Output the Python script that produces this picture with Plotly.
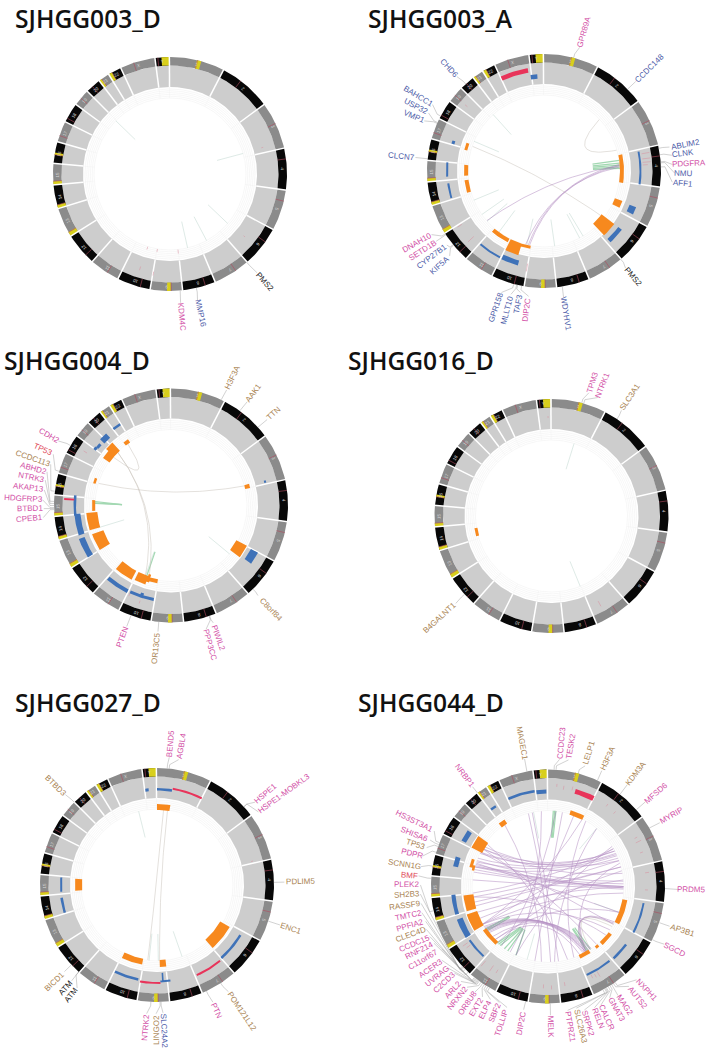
import numpy as np
import plotly.graph_objects as go

# chromosome layout, clockwise degrees from the top
CHROMS = [str(i) for i in range(1, 23)] + ['X', 'Y']
CHROM_END = [27.2, 53.5, 77.2, 97.9, 118.3, 138.8, 157.3, 173.8, 189.8, 206.4, 221.6, 237.9,
             252.8, 264.6, 275.2, 286, 296.5, 306.5, 315, 322.8, 328.4, 335.1, 352.6, 359.7]
CENTROMERE = [.5, .38, .46, .26, .27, .35, .38, .31, .35, .3, .4, .28,
              .15, .16, .18, .4, .3, .2, .45, .44, .27, .29, .39, .2]
HETERO = {'1': (.49, .57), '9': (.36, .48), '13': (0, .16), '14': (0, .16), '15': (0, .17),
          '16': (.39, .5), '21': (0, .25), '22': (0, .28), 'Y': (.45, 1)}

# labels: gene, colour, gene angle, label angle, label radius
P1_LABELS = [('PMS2', 'k', 139, 138.6, 143), ('KDM4C', 'p', 175, 175.3, 143), ('MMP16', 'b', 167, 167.7, 143)]
P1_ORANGE, P1_BLUE, P1_RED = [], [], []
P1_TICKS = [(197.6, 97, 101), (189.5, 99, 103), (197, 76, 79), (189.5, 76, 79), (174, 76, 80), (74, 95, 97), (130, 96, 98)]
P1_STUBS = [(314.5, 314.7), (74.3, 73.9), (130.6, 129), (151.2, 150.6), (166.6, 166.2)]
P1_GREEN, P1_PURPLE, P1_GREY = [], [], []

P2_LABELS = [('GPR89A', 'p', 14.7, 16.1, 145), ('CCDC148', 'b', 45.6, 45.7, 147), ('ABLIM2', 'b', 78.8, 79.2, 144),
             ('CLNK', 'b', 82, 83, 140), ('PDGFRA', 'p', 85.5, 87.1, 145), ('NMU', 'b', 86, 91, 139.5),
             ('AFF1', 'b', 88, 95, 140), ('PMS2', 'k', 139, 140, 138), ('WDYHV1', 'b', 171, 171.2, 144),
             ('DIP2C', 'p', 191, 187, 140), ('TAF3', 'b', 193, 191, 135), ('MLLT10', 'b', 193.5, 195, 144),
             ('GPR158', 'b', 195, 199.3, 145), ('KIF5A', 'b', 230.6, 228, 140.7), ('CYP27B1', 'b', 231, 232.7, 141),
             ('SETD1B', 'p', 237, 236.9, 145), ('DNAH10', 'p', 237.5, 240.5, 145.5), ('CLCN7', 'b', 276, 276, 143),
             ('VMP1', 'b', 294, 292.7, 141), ('USP32', 'b', 294.5, 296.7, 143), ('BAHCC1', 'b', 298, 300.8, 146),
             ('CHD6', 'b', 318, 317.3, 139.6)]
P2_ORANGE = [(78, 98.6, 76, 80), (111, 116, 76, 84), (127, 137, 72, 88), (197, 206, 76, 88), (207, 220.6, 76, 80),
             (190, 197, 76, 79), (254.2, 263.3, 76, 80), (266.6, 274.4, 76, 80), (285, 290, 79.5, 82.5)]
P2_BLUE = [(78.4, 98, 95.5, 97.5), (111.5, 116, 92, 99), (127, 137, 93, 97.5), (207, 220.9, 96, 98),
           (195.5, 205.8, 93, 98), (266.7, 275.1, 96, 98), (253.7, 262.7, 95.5, 97.5), (286.5, 288.5, 93.5, 96.5),
           (352, 356, 92.5, 97)]
P2_RED = [(335.4, 351, 99.5, 104)]
P2_TICKS = [(80, 99, 107), (83, 99, 107), (85, 99, 107), (86.5, 99, 104), (227, 96, 104), (237, 98, 103), (190, 94, 102), (310, 100, 103)]
P2_STUBS = [(318, 318), (293, 293), (247.4, 247.4), (235, 235), (228.5, 228.5), (216.4, 216.4),
            (193, 193), (171.9, 171.9), (152, 152), (149, 149)]
P2_GREEN = [(82, 82), (84, 84), (85.5, 85.5), (87, 87), (88, 88)]
P2_PURPLE = [(86, 191), (85, 192), (87, 194), (86, 229)]
P2_GREY = [(289, 128), (47, 74)]

P3_LABELS = [('H3F3A', 't', 25.4, 25.7, 142), ('AAK1', 't', 36, 36.3, 140), ('TTN', 't', 48, 48.2, 137.6),
             ('C8orf84', 't', 135.6, 136, 144), ('PIWIL2', 'p', 160.7, 160.2, 141), ('PPP3CC', 'p', 161, 164.2, 145),
             ('OR13C5', 't', 186, 185.9, 143), ('PTEN', 'p', 200, 200.1, 140), ('CPEB1', 'p', 268, 264.6, 142),
             ('BTBD1', 'p', 268.5, 268.6, 141), ('HDGFRP3', 'p', 269, 272.6, 147.5), ('AKAP13', 'p', 270, 277, 144),
             ('NTRK3', 'p', 271, 281.4, 142), ('ABHD2', 'p', 272, 285.2, 142.3), ('CCDC113', 't', 277, 288.9, 146),
             ('TP53', 'r', 287, 293.5, 139.6), ('CDH2', 'p', 300.8, 299.8, 141)]
P3_ORANGE = [(74.5, 77.5, 76, 81), (118, 127, 74, 86), (208, 221, 74, 84), (198, 206, 74, 83), (196, 198, 72, 80),
             (190, 197, 75, 79), (238, 250, 72, 84), (253, 265, 74, 85), (266, 274, 76, 79), (286, 290, 78.5, 81),
             (311, 317, 75, 86), (305, 311, 75, 83), (323, 327, 75, 79)]
P3_BLUE = [(75, 76.5, 96, 98), (118.5, 126, 91, 99), (206.8, 220.8, 94, 98), (190.4, 205.3, 94, 97), (197, 199, 92, 97),
           (238, 250, 92, 98), (252, 265, 91, 97), (264, 276, 95, 97.5), (313, 318, 91, 97), (308, 311, 92, 95),
           (306, 308, 93, 96), (323, 328, 94.5, 97)]
P3_RED = [(273, 274, 97, 107)]
P3_TICKS = [(302, 99, 103), (205, 96, 100), (198, 100, 103)]
P3_STUBS = [(253, 253), (129.6, 129.6), (200, 200)]
P3_GREEN = [(272, 271), (271.5, 271), (273, 271), (199, 199)]
P3_PURPLE = []
P3_GREY = [(287, 75), (315, 197), (325, 310), (315, 200)]

P4_LABELS = [('TPM3', 'p', 15, 16.9, 140), ('NTRK1', 'p', 16, 21.4, 141), ('SLC3A1', 't', 34, 33.5, 143),
             ('B4GALNT1', 't', 228, 227.6, 151)]
P4_ORANGE = [(255, 261, 75, 78)]
P4_BLUE, P4_RED = [], []
P4_TICKS = [(151.3, 97, 103), (358, 98, 100)]
P4_STUBS = [(17.3, 17.3), (157.8, 157.8)]
P4_GREEN, P4_PURPLE, P4_GREY = [], [], []

P5_LABELS = [('BEND5', 'p', 5, 5.5, 142), ('AGBL4', 'p', 6, 9.8, 141), ('HSPE1', 'p', 48, 49.8, 142),
             ('HSPE1-MOBKL3', 'p', 48, 54.2, 156.6), ('PDLIM5', 't', 88.7, 88.7, 143.7), ('ENC1', 't', 108, 108, 140.5),
             ('POM121L12', 't', 147, 146.2, 152.4), ('PTN', 'p', 155, 154.5, 138.5), ('SLC24A2', 'b', 178, 177.3, 146.8),
             ('LINGO2', 't', 178.5, 180.4, 145), ('NTRK2', 'p', 183, 184.6, 142.8), ('ATM', 'k', 222, 217.8, 139),
             ('ATM', 'k', 222, 221.7, 137), ('BICD1', 't', 227, 226.9, 140.5), ('BTBD3', 't', 315, 314.6, 142.4)]
P5_ORANGE = [(0, 9.5, 75, 81), (120, 138.5, 73, 84), (190.6, 205.7, 75, 81), (173.5, 178, 75, 82), (266, 274.4, 75, 82)]
P5_BLUE = [(0, 9, 94.5, 97), (353, 355, 94, 97), (121, 138.6, 96, 98.5), (191.2, 205.9, 95, 97.5), (176, 177, 88, 97),
           (172, 178, 95.5, 97.5), (266, 274.5, 95, 97), (253.3, 262.4, 95, 97.5)]
P5_RED = [(9.3, 27.3, 96.5, 98.5), (140.2, 156.2, 97.5, 99.5), (178, 190, 97, 99)]
P5_TICKS = [(76, 97, 99)]
P5_STUBS = [(346, 346), (160.7, 160.7), (186, 186), (179, 179)]
P5_GREEN = []
P5_PURPLE = []
P5_GREY = [(5, 187), (8, 178)]

P6_LABELS = [('MAGEC1', 't', 349.6, 349.6, 146), ('CCDC23', 'p', 3, 5.2, 144), ('TESK2', 'p', 4, 9.2, 142),
             ('LELP1', 't', 15, 17.1, 140), ('H3F3A', 't', 25, 24.9, 141.5), ('KDM3A', 't', 38, 37.9, 143),
             ('MFSD6', 'p', 49, 49, 142.5), ('MYRIP', 'p', 60, 60.3, 142.4), ('PRDM5', 'p', 91, 91.3, 143.7),
             ('AP3B1', 't', 108, 108.1, 141.7), ('SGCD', 'p', 117, 116.4, 141), ('NXPH1', 'p', 145, 136.5, 142.4),
             ('AUTS2', 'p', 146, 141, 142.3), ('MAG2', 'p', 147, 147.3, 140.7), ('GNAT3', 'p', 148, 151, 141),
             ('CALCR', 'p', 149, 155.9, 143.5), ('RELN', 'p', 150, 159, 141), ('SRPK2', 'p', 150.5, 163.6, 142.5),
             ('SLC26A3', 't', 151, 166.9, 143.8), ('PTPRZ1', 'p', 152, 171, 141.7), ('MELK', 'p', 178.9, 178.9, 140),
             ('DIP2C', 'p', 191, 191.2, 139.3), ('TOLLIP', 'p', 210, 198.7, 144), ('SBF2', 'p', 211, 202.7, 137),
             ('ELP4', 'p', 212, 207, 138), ('EXT2', 'p', 213, 210.7, 139.6), ('OR8U8', 'p', 214, 214.7, 142),
             ('NRXN2', 'p', 215, 218.8, 143), ('ARL2', 'p', 216, 222.5, 140), ('C2CD3', 'p', 216.5, 227.2, 141.3),
             ('UVRAG', 'p', 217, 231, 143), ('ACER3', 'p', 217.5, 235.2, 143), ('C11orf67', 'p', 218, 239.5, 144.6),
             ('RNF214', 'p', 218.5, 243.6, 143.7), ('CCDC15', 'p', 219, 247, 144.6), ('CLEC4D', 't', 223, 250.6, 145.3),
             ('PPFIA2', 'p', 225, 254.1, 143.5), ('TMTC2', 'p', 226, 258.3, 142.6), ('RASSF9', 't', 226.5, 262.4, 144.3),
             ('SH2B3', 't', 227, 266.6, 141.6), ('PLEK2', 'p', 258, 270.7, 141.3), ('BMF', 'r', 274, 274.7, 138.5),
             ('SCNN1G', 't', 280, 278.9, 144.8), ('PDPR', 'p', 287, 283.6, 140.3), ('TP53', 't', 290, 287.8, 138.6),
             ('SHISA6', 'p', 291, 291.5, 143), ('HS3ST3A1', 'p', 292, 296, 148), ('NRBP1', 'p', 323, 322.9, 138.8)]
P6_ORANGE = [(16.6, 27.1, 75, 79.5), (322, 327, 75, 80), (297, 306, 74, 86), (284, 290, 78, 81), (282, 286, 75.5, 78),
             (253, 264, 75, 85), (239, 251, 75, 86), (222, 236, 74.5, 78.5), (99.8, 118, 75.5, 80.5), (127, 137, 76, 80),
             (139.5, 142, 76, 79), (147.4, 155.9, 75, 79)]
P6_BLUE = [(353, 359, 93, 97), (335.7, 352, 95, 97.5), (323.5, 327, 94.5, 97), (298, 305, 93, 98), (282, 288, 92, 97),
           (253, 265, 93, 97), (238, 250, 91, 97), (222.7, 235.6, 94, 96), (99.9, 118.3, 96, 98), (126.6, 137.6, 96, 98.5),
           (140.4, 156.4, 95.5, 97.5)]
P6_RED = [(15.9, 27.3, 96.5, 101.5)]
P6_TICKS = [(150, 98, 104), (152, 99, 103), (154, 98, 102), (220, 97, 104), (214.6, 96, 103), (211, 97, 101), (235, 98, 104),
            (233, 97, 102), (182.6, 98, 102), (178, 99, 103), (170.3, 97, 101), (63.6, 98, 104), (61, 99, 102), (70, 98, 101),
            (9, 98, 102), (14, 99, 103), (5, 100, 103), (42, 98, 101), (36, 99, 102), (82, 98, 102), (92, 97, 100)]
P6_STUBS = [(349, 349), (110, 110), (196, 196), (40, 40)]
P6_GREEN = [(236, 232), (235, 233), (234, 231), (222, 214), (220.6, 213.4), (219, 212), (215, 211), (212, 210),
            (205, 208), (6, 6), (5, 5), (4, 4), (149, 150), (148, 149), (146, 147)]
P6_PURPLE = [(345, 178), (348, 172), (11, 190), (355, 205), (325, 185), (20, 210), (27, 240), (6, 218), (30, 160),
             (62, 296), (64, 292), (66, 289), (68, 285), (70, 262), (75, 255), (80, 300), (85, 245), (90, 283), (90, 285),
             (91, 287), (91, 281), (92, 275), (95, 240), (60, 265), (72, 150), (58, 205), (78, 222), (40, 175), (300, 140),
             (305, 165), (297, 120), (288, 110), (262, 130), (258, 75), (250, 90), (225, 110), (240, 60), (125, 240),
             (233, 146), (234, 147), (235, 148), (236, 149), (237, 150), (238, 151), (232, 150), (235, 152), (228, 145),
             (225, 155), (118, 150), (119, 151), (62, 300), (65, 297), (70, 302), (86, 290), (88, 286)]
P6_GREY = [(146, 120), (149, 122)]

CENTERS = [(170, 174), (544, 171), (171, 505.5), (551.5, 516), (157, 885), (548, 886.5)]
TITLES = ['SJHGG003_D', 'SJHGG003_A', 'SJHGG004_D', 'SJHGG016_D', 'SJHGG027_D', 'SJHGG044_D']
TITLE_POS = [(13.2, 18), (365.6, 18), (2.3, 360), (345.6, 360), (13.2, 702), (355.6, 702)]

LABEL_COLORS = {'p': '#d24fa6', 'b': '#4d5ca8', 't': '#a98352', 'k': '#222222', 'r': '#e04a5a'}
R_OUT, R_IDEO, R_BAND, R_TRACK = 117, 108.5, 87, 76
FULL = np.linspace(0, 360, 241)


def pt(cx, cy, angle, r):
    a = np.radians(angle)
    return cx + r * np.sin(a), cy - r * np.cos(a)


def sector(cx, cy, a0, a1, r0, r1):
    t = np.linspace(a0, a1, max(3, int(abs(a1 - a0)) + 2))
    x0, y0 = pt(cx, cy, t, r1)
    x1, y1 = pt(cx, cy, t[::-1], r0)
    return list(x0) + list(x1) + [x0[0], None], list(y0) + list(y1) + [y0[0], None]


def add_polys(fig, polys, color):
    xs, ys = [], []
    for x, y in polys:
        xs += x
        ys += y
    fig.add_trace(go.Scatter(x=xs, y=ys, mode='lines', fill='toself', fillcolor=color,
                             line=dict(width=0, color=color), hoverinfo='skip'))


def add_lines(fig, segs, color, width, opacity=1):
    xs, ys = [], []
    for x, y in segs:
        xs += list(x) + [None]
        ys += list(y) + [None]
    fig.add_trace(go.Scatter(x=xs, y=ys, mode='lines', opacity=opacity,
                             line=dict(width=width, color=color), hoverinfo='skip'))


def link_curve(cx, cy, a, b):
    x0, y0 = pt(0, 0, a, R_TRACK - .5)
    x1, y1 = pt(0, 0, b, R_TRACK - .5)
    ctrl_x, ctrl_y = .15 * (x0 + x1), .15 * (y0 + y1)
    t = np.linspace(0, 1, 40)
    x = (1 - t) ** 2 * x0 + 2 * t * (1 - t) * ctrl_x + t ** 2 * x1
    y = (1 - t) ** 2 * y0 + 2 * t * (1 - t) * ctrl_y + t ** 2 * y1
    return cx + x, cy + y


def stub(cx, cy, a, b):
    x0, y0 = pt(cx, cy, a, R_TRACK)
    x1, y1 = pt(cx, cy, b, 49)
    return [x0, x1], [y0, y1]


def draw_base(fig, cx, cy, annotations):
    starts = [0] + CHROM_END[:-1]
    band = [sector(cx, cy, 0, 360, R_BAND, R_IDEO)]
    add_polys(fig, band, '#cdcdcd')
    add_polys(fig, [sector(cx, cy, s, e, R_IDEO, R_OUT) for i, (s, e) in enumerate(zip(starts, CHROM_END)) if i % 2 == 0], '#8b8b8b')
    add_polys(fig, [sector(cx, cy, s, e, R_IDEO, R_OUT) for i, (s, e) in enumerate(zip(starts, CHROM_END)) if i % 2 == 1], '#080808')
    yellow = []
    for name, (f0, f1) in HETERO.items():
        i = CHROMS.index(name)
        span = CHROM_END[i] - starts[i]
        yellow.append(sector(cx, cy, starts[i] + f0 * span, starts[i] + f1 * span, R_IDEO, R_OUT))
    add_polys(fig, yellow, '#d8cf1c')
    cen = [pt(cx, cy, np.array([s + f * (e - s)] * 2), np.array([R_IDEO, R_OUT])) for s, e, f in zip(starts, CHROM_END, CENTROMERE)]
    add_lines(fig, cen, '#b04a5e', .6)
    rings = [pt(cx, cy, FULL, r) for r in (R_TRACK, 77.8, 79.6, 81.4, 83.2, 85)]
    add_lines(fig, rings, '#ececec', .4)
    ticks = [pt(cx, cy, np.array([e, e]), np.array([R_TRACK, R_BAND])) for e in CHROM_END]
    add_lines(fig, ticks, '#efefef', .4)
    gaps = [pt(cx, cy, np.array([e, e]), np.array([R_BAND, R_OUT + 1])) for e in CHROM_END]
    add_lines(fig, gaps, 'white', 1.5)
    for name, s, e in zip(CHROMS, starts, CHROM_END):
        x, y = pt(cx, cy, (s + e) / 2, (R_IDEO + R_OUT) / 2)
        mid = (s + e) / 2
        annotations.append(dict(x=x, y=y, text=name, showarrow=False, textangle=mid if mid < 180 else mid - 360,
                                font=dict(family='Liberation Sans', size=4.5, color='#d8d8d8')))


def draw_labels(fig, cx, cy, labels, annotations):
    leaders = []
    for name, cls, gene, ang, rad in labels:
        start = rad - len(name) * 2.55 - 1
        r1 = pt(cx, cy, gene, R_OUT)
        r2 = pt(cx, cy, gene, min(R_OUT + 4, start))
        r3 = pt(cx, cy, ang, start)
        leaders.append(([r1[0], r2[0], r3[0]], [r1[1], r2[1], r3[1]]))
        x, y = pt(cx, cy, ang, rad)
        tilt = ang - 90 if ang < 180 else ang - 270
        annotations.append(dict(x=x, y=y, text=name, showarrow=False, textangle=tilt,
                                font=dict(family='Liberation Sans', size=8, color=LABEL_COLORS[cls])))
    add_lines(fig, leaders, '#9a9a9a', .45)


panels = [
    (P1_LABELS, P1_ORANGE, P1_BLUE, P1_RED, P1_TICKS, P1_STUBS, P1_GREEN, P1_PURPLE, P1_GREY),
    (P2_LABELS, P2_ORANGE, P2_BLUE, P2_RED, P2_TICKS, P2_STUBS, P2_GREEN, P2_PURPLE, P2_GREY),
    (P3_LABELS, P3_ORANGE, P3_BLUE, P3_RED, P3_TICKS, P3_STUBS, P3_GREEN, P3_PURPLE, P3_GREY),
    (P4_LABELS, P4_ORANGE, P4_BLUE, P4_RED, P4_TICKS, P4_STUBS, P4_GREEN, P4_PURPLE, P4_GREY),
    (P5_LABELS, P5_ORANGE, P5_BLUE, P5_RED, P5_TICKS, P5_STUBS, P5_GREEN, P5_PURPLE, P5_GREY),
    (P6_LABELS, P6_ORANGE, P6_BLUE, P6_RED, P6_TICKS, P6_STUBS, P6_GREEN, P6_PURPLE, P6_GREY),
]

fig = go.Figure()
notes = []
for (cx, cy), title, pos, panel in zip(CENTERS, TITLES, TITLE_POS, panels):
    labels, orange, blue, red, tick_marks, stubs, green, purple, grey = panel
    draw_base(fig, cx, cy, notes)
    add_lines(fig, [stub(cx, cy, a, b) for a, b in stubs], '#c8dcd5', .6)
    add_lines(fig, [stub(cx, cy, a, b) for a, b in green], '#7cc892', 1.2, .7)
    add_lines(fig, [link_curve(cx, cy, a, b) for a, b in grey], '#c8c2ba', .5)
    add_lines(fig, [link_curve(cx, cy, a, b) for a, b in purple], '#a06fb2', .55, .75)
    add_lines(fig, [pt(cx, cy, np.array([a, a]), np.array([r0, r1])) for a, r0, r1 in tick_marks], '#d98c9c', .5)
    add_polys(fig, [sector(cx, cy, *f) for f in orange], '#f7891e')
    add_polys(fig, [sector(cx, cy, *f) for f in blue], '#3f72b8')
    add_polys(fig, [sector(cx, cy, *f) for f in red], '#e8345a')
    draw_labels(fig, cx, cy, labels, notes)
    notes.append(dict(x=pos[0], y=pos[1], text=title, showarrow=False, xanchor='left',
                      font=dict(family='Open Sans', size=24.6, color='#111111', weight=600)))

fig.update_layout(width=713, height=1048, margin=dict(l=0, r=0, t=0, b=0), showlegend=False,
                  paper_bgcolor='white', plot_bgcolor='white', annotations=notes,
                  xaxis=dict(range=[0, 713], visible=False, fixedrange=True),
                  yaxis=dict(range=[1048, 0], visible=False, fixedrange=True))
fig.write_html("out.html", config=dict(displayModeBar=False),
               post_script="document.body.style.margin='0';")
